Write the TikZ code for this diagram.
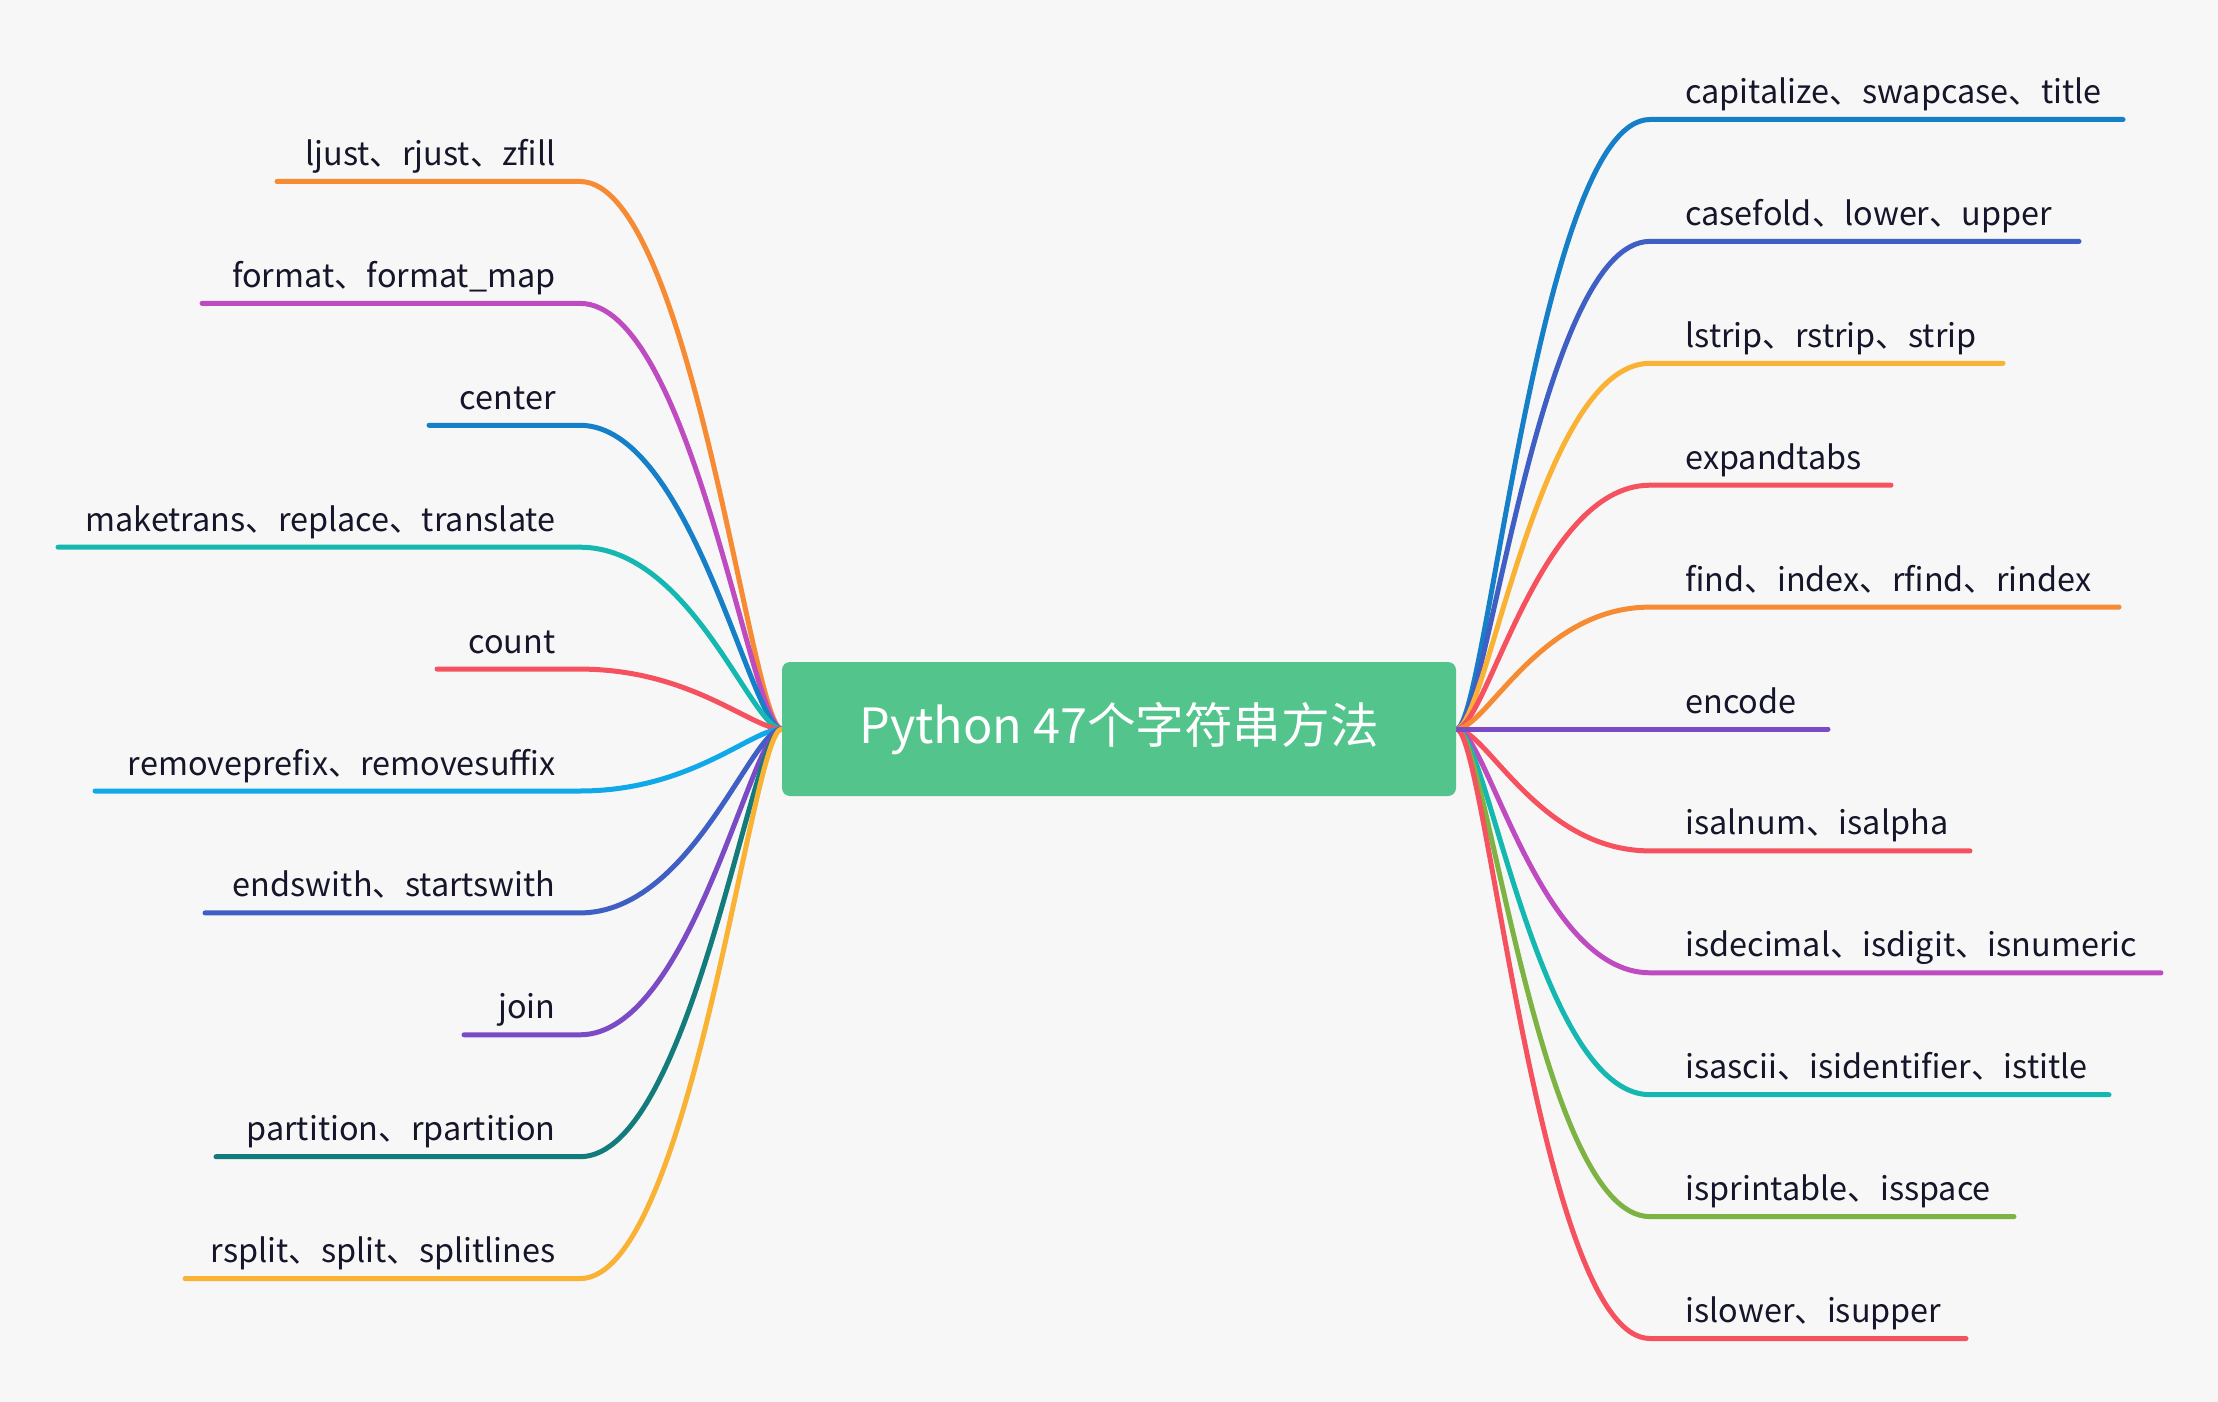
\documentclass[tikz,border=0pt]{standalone}
\usepackage{fontspec}
\setmainfont{Noto Sans CJK SC}
\definecolor{bgc}{HTML}{F7F7F7}
\definecolor{rootc}{HTML}{52C48C}
\definecolor{txt}{HTML}{16162B}
\definecolor{corange}{HTML}{F68B33}
\definecolor{cmagenta}{HTML}{BE4BC0}
\definecolor{cblue}{HTML}{1580C8}
\definecolor{cteal}{HTML}{14B8B0}
\definecolor{cred}{HTML}{F5515F}
\definecolor{csky}{HTML}{0FA8E8}
\definecolor{cindigo}{HTML}{3F5FC4}
\definecolor{cpurple}{HTML}{7A4BC4}
\definecolor{cdteal}{HTML}{137B7B}
\definecolor{cyellow}{HTML}{F9B233}
\definecolor{cgreen}{HTML}{7CB342}
\pgfdeclarelayer{bg}
\pgfsetlayers{bg,main}
\tikzset{
  lbl/.style={font=\fontsize{16.2pt}{19pt}\selectfont, text=txt, inner sep=0pt},
  branch/.style={line width=2.5pt, line cap=round},
  rootbox/.style={fill=rootc, rounded corners=4pt, minimum width=337pt, minimum height=67pt, inner sep=0pt, text=white, font=\fontsize{24.3pt}{29pt}\selectfont}
}
\begin{document}
\begin{tikzpicture}[x=0.5pt,y=-0.5pt]
\begin{pgfonlayer}{bg}
\fill[bgc] (0,0) rectangle (2218,1402);
\end{pgfonlayer}
\useasboundingbox (0,0) rectangle (2218,1402);
\node[rootbox] (root) at (1119,729) {\raisebox{-1.5pt}{Python 47个字符串方法}};

% left labels
\node[lbl, anchor=base east] (l1) at (556,165.5) {ljust、rjust、zfill};
\node[lbl, anchor=base east] (l2) at (556,287.4) {format、format\_map};
\node[lbl, anchor=base east] (l3) at (556,409.3) {center};
\node[lbl, anchor=base east] (l4) at (556,531.2) {maketrans、replace、translate};
\node[lbl, anchor=base east] (l5) at (556,653.1) {count};
\node[lbl, anchor=base east] (l6) at (556,775) {removeprefix、removesuffix};
\node[lbl, anchor=base east] (l7) at (556,896.9) {endswith、startswith};
\node[lbl, anchor=base east] (l8) at (556,1018.8) {join};
\node[lbl, anchor=base east] (l9) at (556,1140.7) {partition、rpartition};
\node[lbl, anchor=base east] (l10) at (556,1262.6) {rsplit、split、splitlines};

% right labels
\node[lbl, anchor=base west] (r1) at (1685,103.5) {capitalize、swapcase、title};
\node[lbl, anchor=base west] (r2) at (1685,225.4) {casefold、lower、upper};
\node[lbl, anchor=base west] (r3) at (1685,347.3) {lstrip、rstrip、strip};
\node[lbl, anchor=base west] (r4) at (1685,469.2) {expandtabs};
\node[lbl, anchor=base west] (r5) at (1685,591.1) {find、index、rfind、rindex};
\node[lbl, anchor=base west] (r6) at (1685,713) {encode};
\node[lbl, anchor=base west] (r7) at (1685,834.9) {isalnum、isalpha};
\node[lbl, anchor=base west] (r8) at (1685,956.8) {isdecimal、isdigit、isnumeric};
\node[lbl, anchor=base west] (r9) at (1685,1078.7) {isascii、isidentifier、istitle};
\node[lbl, anchor=base west] (r10) at (1685,1200.6) {isprintable、isspace};
\node[lbl, anchor=base west] (r11) at (1685,1322.5) {islower、isupper};

% coordinates for branch ends
\foreach \n/\y/\e in {1/181.5/277, 2/303.4/202, 3/425.3/429, 4/547.2/58, 5/669.1/437, 6/791/95, 7/912.9/205, 8/1034.8/464, 9/1156.7/216, 10/1278.6/185}{
  \coordinate (lk\n) at (580,\y);
  \coordinate (le\n) at (\e,\y);
}
\foreach \n/\y/\e in {1/119.5/2123, 2/241.4/2079, 3/363.3/2003, 4/485.2/1891, 5/607.1/2119, 6/729/1828, 7/850.9/1970, 8/972.8/2161, 9/1094.7/2109, 10/1216.6/2014, 11/1338.5/1966}{
  \coordinate (rk\n) at (1650,\y);
  \coordinate (re\n) at (\e,\y);
}

\begin{pgfonlayer}{bg}
\foreach \n/\c in {1/corange, 2/cmagenta, 3/cblue, 4/cteal, 5/cred, 6/csky, 7/cindigo, 8/cpurple, 9/cdteal, 10/cyellow}{
  \draw[branch, \c] (root.west) .. controls +(-30,0) and +(111,0) .. (lk\n) -- (le\n);
}
\foreach \n/\c in {1/cblue, 2/cindigo, 3/cyellow, 4/cred, 5/corange, 7/cred, 8/cmagenta, 9/cteal, 10/cgreen, 11/cred}{
  \draw[branch, \c] (root.east) .. controls +(30,0) and +(-111,0) .. (rk\n) -- (re\n);
}
\draw[branch, cpurple] (root.east) -- (re6);
\end{pgfonlayer}
\end{tikzpicture}
\end{document}
